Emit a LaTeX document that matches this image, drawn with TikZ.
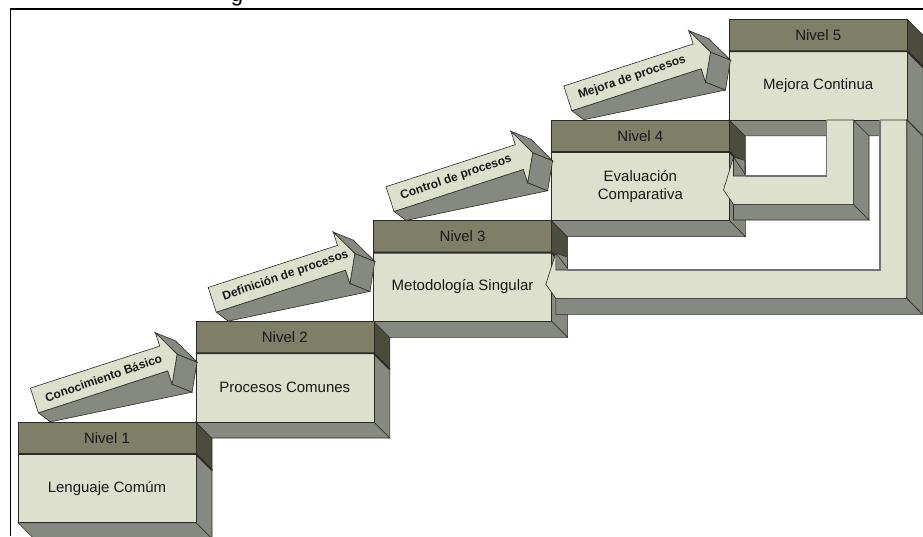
\documentclass[tikz,border=0pt]{standalone}
\usepackage{fontspec}
\setmainfont{Liberation Sans}
\definecolor{cfrente}{HTML}{DDE0CC}
\definecolor{clateral}{HTML}{86897F}
\definecolor{ccabeza}{HTML}{7F7E66}
\definecolor{ccabezalado}{HTML}{4C4C3C}
\definecolor{cborde}{HTML}{2B2B26}
\tikzset{
  frente/.style={fill=cfrente, draw=cborde, line width=0.6pt},
  lateral/.style={fill=clateral, draw=cborde, line width=0.6pt},
  cabeza/.style={fill=ccabeza, draw=cborde, line width=0.6pt},
  cabezalado/.style={fill=ccabezalado, draw=cborde, line width=0.6pt},
  nivel/.style={font=\fontsize{15}{18}\selectfont, text=black!90, inner sep=0pt},
  etapa/.style={font=\fontsize{15}{18}\selectfont, text=black!90, align=center, inner sep=0pt},
  flechatexto/.style={font=\bfseries\fontsize{12}{14}\selectfont, text=black!90, inner sep=0pt, anchor=west},
  interior/.style={draw=black!55, line width=1.2pt}
}
\begin{document}
\begin{tikzpicture}[x=1pt,y=-1pt]
\useasboundingbox (0,0) rectangle (923,536);
\node[font=\fontsize{22}{26}\selectfont, anchor=base, inner sep=0pt] (titulo) at (237,1) {g};
\draw[line width=1.6pt] (10.5,536) -- (10.5,9) -- (923,9);

\foreach \n/\etapa in {1/{Lenguaje Comúm},2/{Procesos Comunes},3/{Metodología Singular},4/{Evaluación\\Comparativa},5/{Mejora Continua}} {
  \pgfmathsetmacro\xa{18+177.8*(\n-1)}
  \pgfmathsetmacro\ya{422-100.7*(\n-1)}
  \pgfmathsetmacro\xb{\xa+178}
  \pgfmathsetmacro\yh{\ya+32}
  \pgfmathsetmacro\yb{\ya+100.7}
  \draw[cabezalado] (\xb,\ya) -- ++(16,16) -- (\xb+16,\yh+16) -- (\xb,\yh) -- cycle;
  \draw[lateral] (\xb,\yh) -- ++(16,16) -- (\xb+16,\yb+16) -- (\xb,\yb) -- cycle;
  \draw[lateral] (\xa,\yb) -- (\xb,\yb) -- ++(16,16) -- (\xa+16,\yb+16) -- cycle;
  \draw[cabeza] (\xa,\ya) rectangle (\xb,\yh);
  \draw[frente] (\xa,\yh) rectangle (\xb,\yb);
  \draw[draw=cborde, line width=1.8pt] (\xa,\yh) -- (\xb,\yh) -- ++(16,16);
  \node[nivel] (nivel\n) at ({\xa+89},{\ya+16}) {Nivel \n};
  \node[etapa] (etapa\n) at ({\xa+89},{(\yh+\yb)/2}) {\etapa};
}

\foreach \n/\texto in {1/{Conocimiento Básico},2/{Definición de procesos},3/{Control de procesos},4/{Mejora de procesos}} {
  \pgfmathsetmacro\xa{18+177.8*(\n-1)}
  \pgfmathsetmacro\ya{422-100.7*(\n-1)}
  \begin{scope}[shift={(\xa+24,\ya-24)}, rotate=18]
    \coordinate (c\n) at (-8,-13);
    \coordinate (s\n) at (128,-13);
    \coordinate (pa\n) at (128,-27);
    \coordinate (pt\n) at (142,0);
    \coordinate (pb\n) at (128,27);
    \coordinate (i\n) at (128,13);
    \coordinate (k\n) at (-8,13);
  \end{scope}
  \draw[lateral] (i\n) -- (k\n) -- ([shift={(12,9)}]k\n) -- ([shift={(20,8)}]pb\n) -- (pb\n) -- cycle;
  \draw[lateral] (pt\n) -- (pb\n) -- ([shift={(20,8)}]pb\n) -- ([shift={(20,8)}]pt\n) -- cycle;
  \draw[lateral] (pa\n) -- (pt\n) -- ([shift={(20,8)}]pt\n) -- ([shift={(20,8)}]pa\n) -- cycle;
  \draw[frente] (c\n) -- (s\n) -- (pa\n) -- (pt\n) -- (pb\n) -- (i\n) -- (k\n) -- cycle;
  \begin{scope}[shift={(\xa+24,\ya-24)}, rotate=18]
    \node[flechatexto, rotate=19] (flecha\n) at (3,1) {\texto};
  \end{scope}
}

\draw[lateral] (906.7,120) -- (922.3,135.7) -- (922.3,314.3) -- (906.7,298.3) -- cycle;
\draw[lateral] (555.8,298.3) -- (906.7,298.3) -- (922.3,314.3) -- (555.8,314.3) -- cycle;
\fill[cfrente] (880,120) -- (906.7,120) -- (906.7,298.3) -- (555.8,298.3) -- (545.8,284.2) -- (555.8,253.3) -- (555.8,270) -- (880,270) -- cycle;
\draw[cborde, line width=0.6pt] (880,120) -- (906.7,120) -- (906.7,298.3) -- (555.8,298.3) -- (545.8,284.2) -- (555.8,253.3);
\draw[lateral] (555.8,253.3) -- (567.3,257) -- (567.3,270) -- (555.8,270) -- cycle;
\draw[cborde, line width=0.6pt] (555.8,253.3) -- (567.3,268);
\draw[interior] (880,120) -- (880,270) -- (567.3,270);

\draw[lateral] (853.3,120) -- (869,135.7) -- (869,220) -- (853.3,204.3) -- cycle;
\draw[lateral] (733.5,204.3) -- (853.3,204.3) -- (869,220) -- (733.5,220) -- cycle;
\fill[cfrente] (826.7,120) -- (853.3,120) -- (853.3,204.3) -- (733.5,204.3) -- (723.5,190) -- (733.5,157) -- (733.5,176) -- (826.7,176) -- cycle;
\draw[cborde, line width=0.6pt] (826.7,120) -- (853.3,120) -- (853.3,204.3) -- (733.5,204.3) -- (723.5,190) -- (733.5,157);
\draw[lateral] (733.5,157) -- (745,160.5) -- (745,176) -- (733.5,176) -- cycle;
\draw[cborde, line width=0.6pt] (733.5,157) -- (745,174);
\draw[interior] (826.7,120) -- (826.7,176) -- (745,176);
\end{tikzpicture}
\end{document}
